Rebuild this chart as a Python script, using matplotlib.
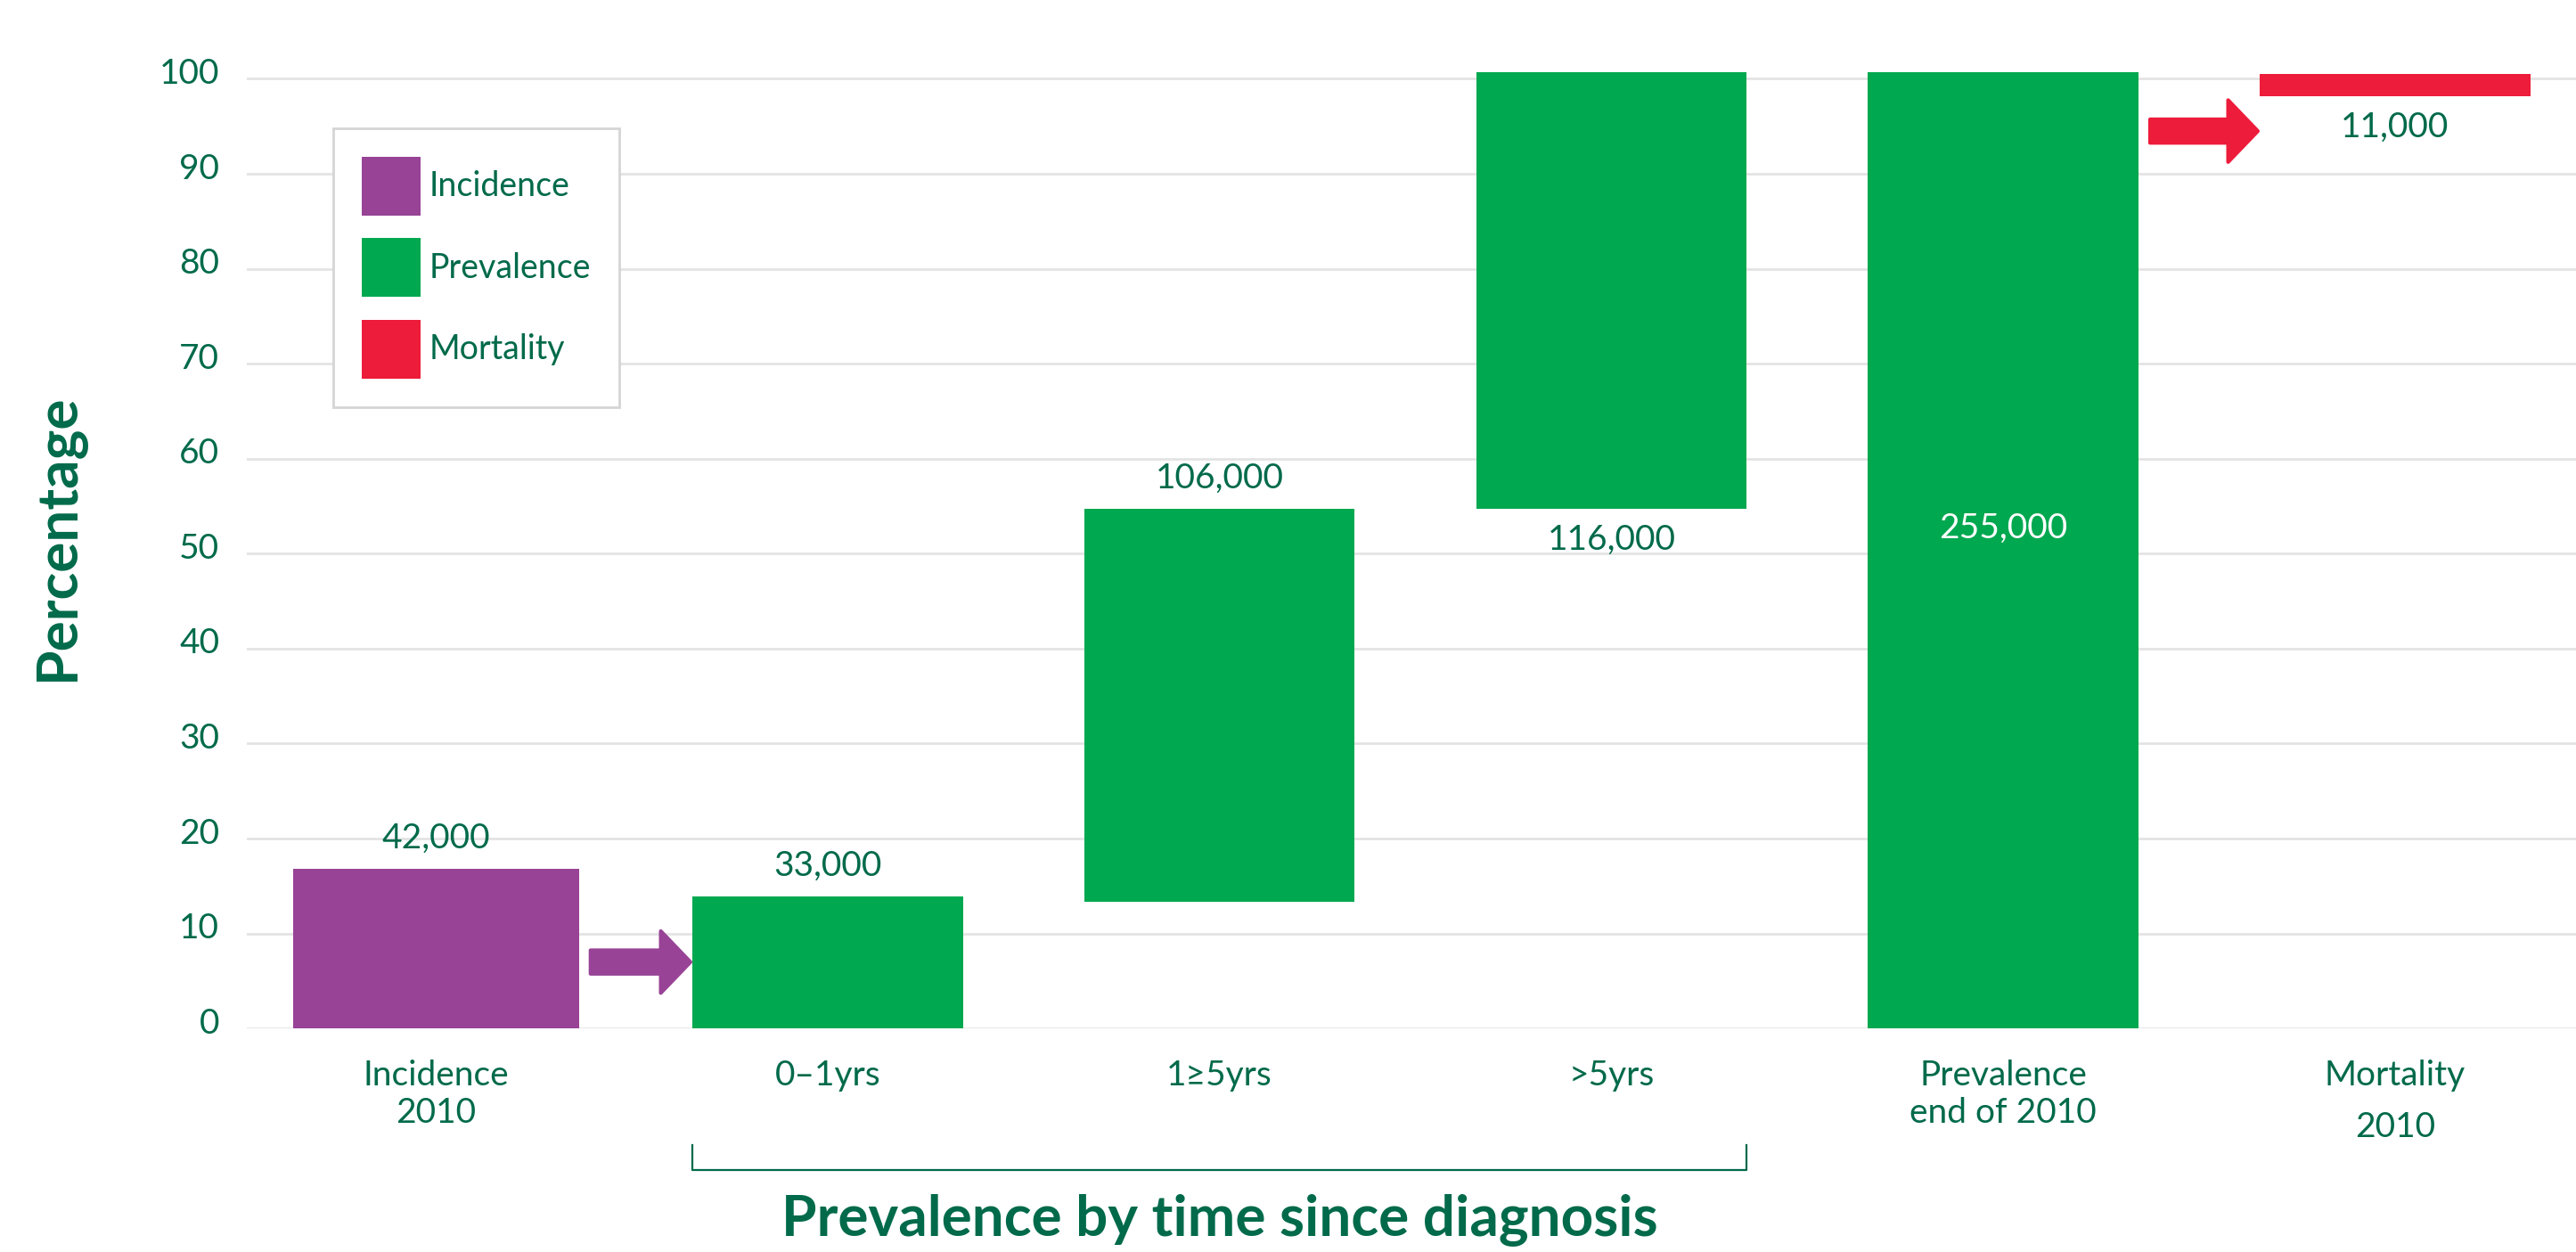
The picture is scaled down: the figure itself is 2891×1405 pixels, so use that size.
import numpy as np
import matplotlib
matplotlib.use('Agg')
import matplotlib.pyplot as plt
from matplotlib.patches import Patch, FancyArrowPatch
from matplotlib.transforms import ScaledTranslation, blended_transform_factory

plt.rcParams['font.family'] = ['Lato', 'DejaVu Sans']

# percentage ranges per bar and the case counts printed next to them
categories = ['Incidence\n2010', '0–1yrs', '1≥5yrs', '>5yrs', 'Prevalence\nend of 2010', 'Mortality\n2010']
bar_bottom = [0, 0, 13.3, 54.7, 0, 98.2]
bar_top = [16.8, 13.9, 54.7, 100.7, 100.7, 100.5]
counts = ['42,000', '33,000', '106,000', '116,000', '255,000', '11,000']
groups = ['Incidence', 'Prevalence', 'Prevalence', 'Prevalence', 'Prevalence', 'Mortality']
legend_groups = ['Incidence', 'Prevalence', 'Mortality']

# arrows: (from bar, to bar), height in % and which group colour they take
arrow_links = [(0, 1), (4, 5)]
arrow_y = [7.0, 94.5]
arrow_groups = ['Incidence', 'Mortality']

dark = '#006a4a'
palette = {'Incidence': '#984396', 'Prevalence': '#00a84f', 'Mortality': '#ed1c3a'}
count_place = ['above', 'above', 'above', 'below', 'inside', 'below']
widths = [0.73, 0.69, 0.69, 0.69, 0.69, 0.69]

fig = plt.figure(figsize=(28.91, 14.05), dpi=100)
ax = fig.add_axes([0.0957, 0.1785, 0.9043, 0.7661])

x = np.arange(len(categories))
heights = np.array(bar_top) - np.array(bar_bottom)
colors = [palette[g] for g in groups]
ax.bar(x, heights, bottom=bar_bottom, width=widths, color=colors, zorder=3, clip_on=False)

ax.set_xlim(-0.483, 5.462)
ax.set_ylim(0, 101)
ax.set_yticks(range(0, 101, 10))
ax.grid(axis='y', color='#e4e4e4', lw=2)
ax.grid(axis='x', visible=False)
ax.set_axisbelow(True)
for s in ax.spines.values():
    s.set_visible(False)
ax.tick_params(axis='both', length=0, labelsize=28, labelcolor=dark)
ax.tick_params(axis='y', pad=22)
ax.tick_params(axis='x', pad=25)
ax.set_xticks(x, categories)
ax.get_xticklabels()[5].set_linespacing(1.75)

lift = ScaledTranslation(0, 9 / 100, fig.dpi_scale_trans)
for lab in ax.get_yticklabels():
    lab.set_transform(lab.get_transform() + lift)

# count labels
for i, txt in enumerate(counts):
    if count_place[i] == 'above':
        ax.annotate(txt, (x[i], bar_top[i]), xytext=(0, 12), textcoords='offset points',
                    ha='center', va='bottom', fontsize=28, color=dark)
    elif count_place[i] == 'below':
        ax.annotate(txt, (x[i], bar_bottom[i]), xytext=(0, -12), textcoords='offset points',
                    ha='center', va='top', fontsize=28, color=dark)
    else:
        ax.annotate(txt, (x[i], (bar_bottom[i] + bar_top[i]) / 2), xytext=(0, 18),
                    textcoords='offset points', ha='center', va='center', fontsize=28, color='white')

# flow arrows
for (a, b), y, g in zip(arrow_links, arrow_y, arrow_groups):
    x0 = x[a] + widths[a] / 2 + 0.03
    x1 = x[b] - widths[b] / 2 - 0.005
    ax.add_patch(FancyArrowPatch((x0, y), (x1, y),
                                 arrowstyle='simple,head_length=2.4,head_width=5.0,tail_width=1.9',
                                 mutation_scale=10, color=palette[g], lw=3,
                                 joinstyle='round', capstyle='round', shrinkA=0, shrinkB=0,
                                 zorder=4, clip_on=False))

# bracket under the three prevalence bands
trans = blended_transform_factory(ax.transData, ax.transAxes)
left = x[1] - widths[1] / 2
right = x[3] + widths[3] / 2
ax.plot([left, left, right, right], [-0.1216, -0.1473, -0.1473, -0.1216], transform=trans,
        clip_on=False, color=dark, lw=1.6)
ax.text((left + right) / 2, -0.215, 'Prevalence by time since diagnosis', transform=trans,
        ha='center', va='baseline', fontsize=46, fontweight='bold', color=dark)

fig.text(0.0223, 0.571, 'Percentage', rotation=90, ha='center', va='center',
         fontsize=46, fontweight='bold', color=dark)

handles = [Patch(facecolor=palette[k], label=k) for k in legend_groups]
leg = ax.legend(handles=handles, loc='upper left', bbox_to_anchor=(0.0374, 0.9387),
                borderaxespad=0, fontsize=27, labelcolor=dark, frameon=True, fancybox=False,
                edgecolor='#d5d5d5', framealpha=1, handlelength=1.75, handleheight=2.33,
                handletextpad=0.25, labelspacing=0.68, borderpad=0.85)
leg.get_frame().set_linewidth(2)

fig.savefig('out.png', dpi=100, facecolor='white')
